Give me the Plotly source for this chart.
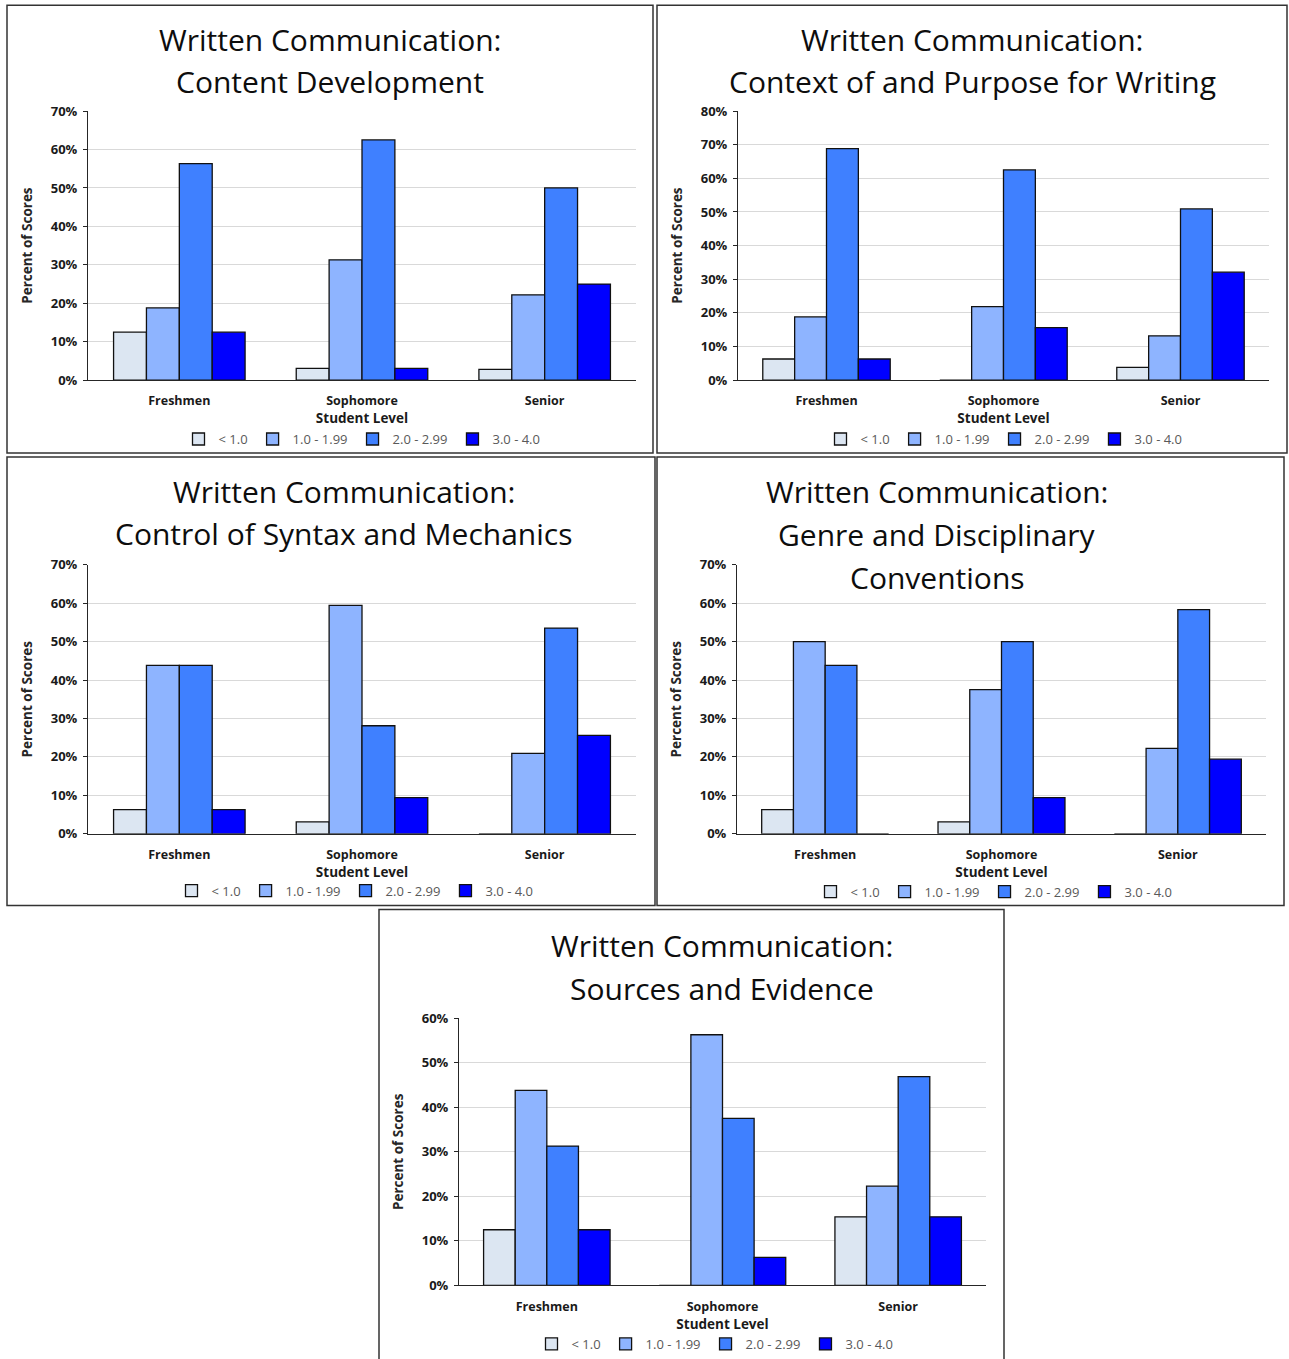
import plotly.graph_objects as go

# ---- data -------------------------------------------------------------
levels = ["Freshmen", "Sophomore", "Senior"]
score_bands = ["< 1.0", "1.0 - 1.99", "2.0 - 2.99", "3.0 - 4.0"]
band_colors = ["#DCE6F2", "#8EB4FF", "#3F80FF", "#0000FF"]

# Percent of scores in each band, ordered Freshmen / Sophomore / Senior
content_lt1 = [12.5, 3.1, 2.8]
content_b1 = [18.8, 31.3, 22.2]
content_b2 = [56.3, 62.5, 50.0]
content_b3 = [12.5, 3.1, 25.0]

context_lt1 = [6.3, 0.0, 3.8]
context_b1 = [18.8, 21.9, 13.2]
context_b2 = [68.8, 62.5, 50.9]
context_b3 = [6.3, 15.6, 32.1]

syntax_lt1 = [6.3, 3.1, 0.0]
syntax_b1 = [43.8, 59.4, 20.9]
syntax_b2 = [43.8, 28.1, 53.5]
syntax_b3 = [6.3, 9.4, 25.6]

genre_lt1 = [6.3, 3.1, 0.0]
genre_b1 = [50.0, 37.5, 22.2]
genre_b2 = [43.8, 50.0, 58.3]
genre_b3 = [0.0, 9.4, 19.4]

sources_lt1 = [12.5, 0.0, 15.4]
sources_b1 = [43.8, 56.3, 22.3]
sources_b2 = [31.3, 37.5, 46.9]
sources_b3 = [12.5, 6.3, 15.4]

titles = [
    ["Written Communication:", "Content Development"],
    ["Written Communication:", "Context of and Purpose for Writing"],
    ["Written Communication:", "Control of Syntax and Mechanics"],
    ["Written Communication:", "Genre and Disciplinary", "Conventions"],
    ["Written Communication:", "Sources and Evidence"],
]
y_max = [70, 80, 70, 70, 60]

panel_data = [
    [content_lt1, content_b1, content_b2, content_b3],
    [context_lt1, context_b1, context_b2, context_b3],
    [syntax_lt1, syntax_b1, syntax_b2, syntax_b3],
    [genre_lt1, genre_b1, genre_b2, genre_b3],
    [sources_lt1, sources_b1, sources_b2, sources_b3],
]

# ---- layout geometry (pixels on the page) -----------------------------
W, H = 1289, 1359
# the drawing area starts a few pixels below the page top
Y_OFF, Y_SPAN = 8.65, 1338.1
# plot areas: left, right, top, bottom
plot_px = [
    (88, 636, 111, 381),
    (738, 1269, 111, 381),
    (88, 636, 566, 836),
    (737, 1266, 566, 836),
    (459, 986, 1021, 1289),
]
# panel frames: left, top, right, bottom
frame_px = [
    (7, 5, 653, 454),
    (657, 5, 1287, 454),
    (7, 458, 655, 908),
    (657, 458, 1284, 908),
    (379, 912, 1004, 1366),
]
title_px = [
    (330, [39, 81]),
    (972, [39, 81]),
    (344, [493, 535]),
    (937, [493, 536, 579]),
    (722, [948, 991]),
]
legend_px = [(362, 440), (1004, 440), (355, 893), (994, 894), (715, 1348)]


def px_x(x):
    return x / W


def px_y(y):
    return 1 - (y - Y_OFF) / Y_SPAN


FONT = "Open Sans"
fig = go.Figure()
layout = dict(
    width=W, height=H,
    margin=dict(l=0, r=0, t=0, b=0),
    paper_bgcolor="white", plot_bgcolor="white",
    barmode="group", bargap=0.28, bargroupgap=0,
    showlegend=True,
    font=dict(family=FONT),
)
shapes = []
annotations = []

for i in range(5):
    n = "" if i == 0 else str(i + 1)
    xa, ya = "x" + n, "y" + n
    leg = "legend" + n
    for band, color, vals in zip(score_bands, band_colors, panel_data[i]):
        fig.add_trace(go.Bar(
            x=levels, y=vals, name=band, xaxis=xa, yaxis=ya, legend=leg,
            marker=dict(color=color, line=dict(color="#111111", width=1.3)),
            hovertemplate="%{x}<br>" + band + ": %{y:.1f}%<extra></extra>",
        ))
    l, r, t, b = plot_px[i]
    layout["xaxis" + n] = dict(
        domain=[px_x(l), px_x(r)], anchor=ya,
        showline=True, linecolor="#262626", linewidth=1.2,
        ticks="", showgrid=False, ticklabelstandoff=9,
        tickfont=dict(size=12.5, color="#1a1a1a", weight="bold"),
        title=dict(text="Student Level", standoff=0,
                   font=dict(size=13.5, color="#1a1a1a", weight="bold")),
        fixedrange=True,
    )
    layout["yaxis" + n] = dict(
        domain=[px_y(b), px_y(t)], anchor=xa,
        range=[0, y_max[i]], dtick=10, ticksuffix="%",
        showline=True, linecolor="#262626", linewidth=1.2,
        ticks="outside", ticklen=4, tickcolor="#262626",
        ticklabelstandoff=3,
        showgrid=True, gridcolor="#D9D9D9", gridwidth=1,
        zeroline=False,
        tickfont=dict(size=13, color="#1a1a1a", weight="bold"),
        title=dict(text="Percent of Scores", standoff=14,
                   font=dict(size=13.5, color="#262626", weight="bold")),
        fixedrange=True,
    )
    lx, ly = legend_px[i]
    layout[leg] = dict(
        orientation="h", x=px_x(lx), xanchor="center",
        y=px_y(ly), yanchor="middle",
        font=dict(size=13, color="#595959"),
        itemwidth=30, bgcolor="rgba(0,0,0,0)",
        traceorder="normal", itemclick=False, itemdoubleclick=False,
    )
    fl, ft, fr, fb = frame_px[i]
    shapes.append(dict(
        type="rect", xref="paper", yref="paper",
        x0=px_x(fl), x1=px_x(fr), y0=px_y(fb), y1=px_y(ft),
        line=dict(color="#333333", width=1.5), layer="below",
    ))
    cx, rows = title_px[i]
    for line_text, ry in zip(titles[i], rows):
        annotations.append(dict(
            text=line_text, xref="paper", yref="paper",
            x=px_x(cx), y=px_y(ry), xanchor="center", yanchor="middle",
            showarrow=False, font=dict(size=30, color="#0d0d0d", family=FONT),
        ))

layout["shapes"] = shapes
layout["annotations"] = annotations
fig.update_layout(**layout)
fig.write_html("out.html")
